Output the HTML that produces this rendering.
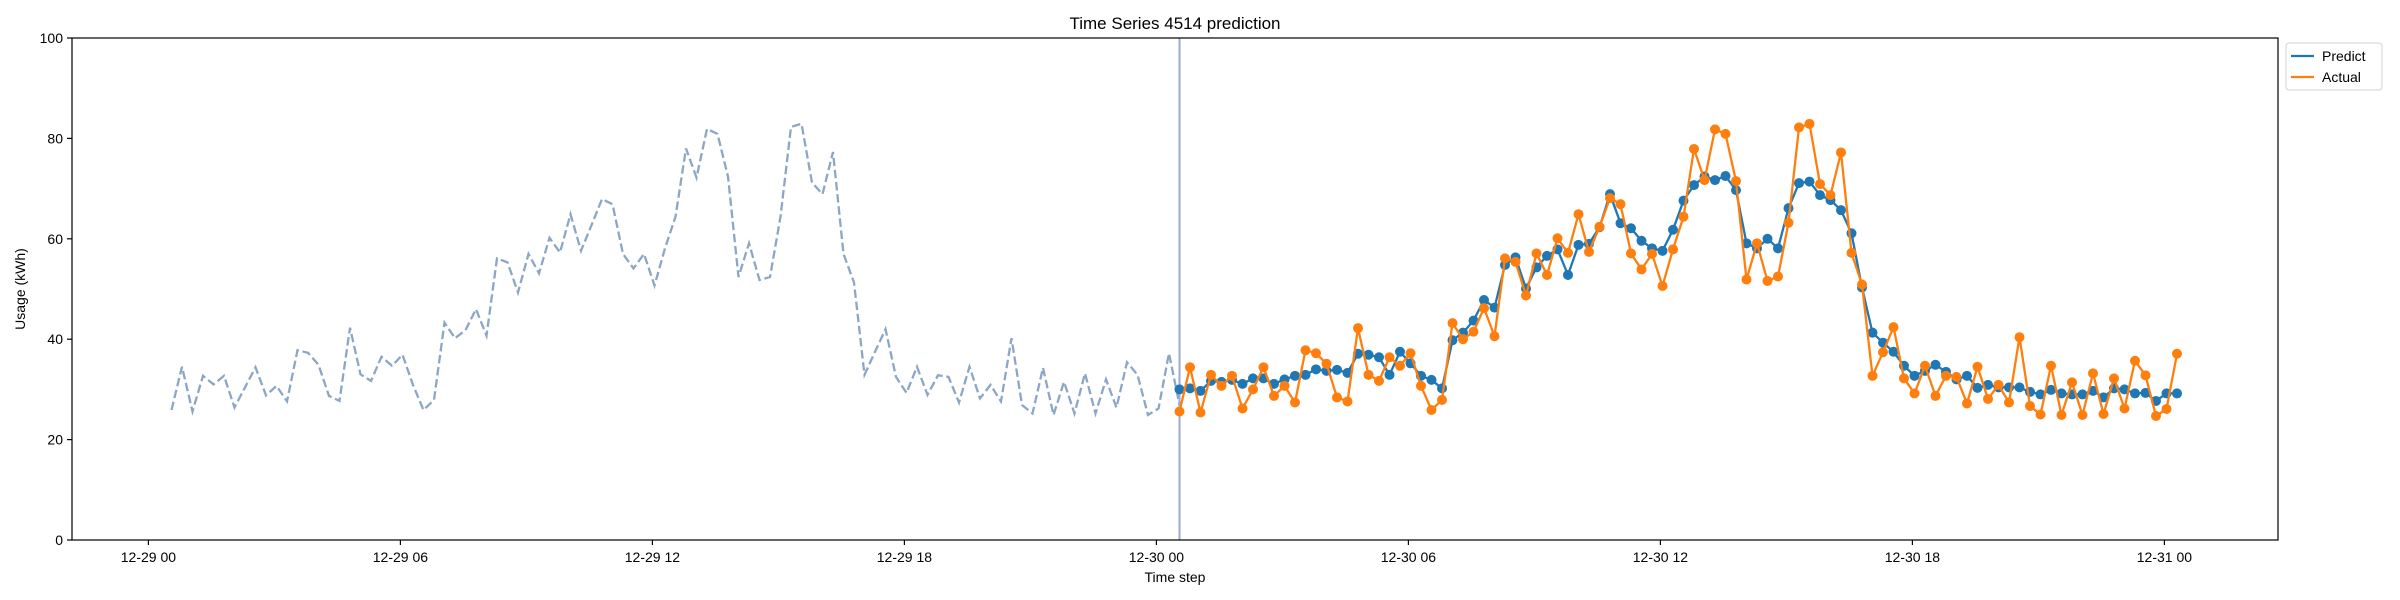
<!DOCTYPE html>
<html><head><meta charset="utf-8"><style>
html,body{margin:0;padding:0;background:#fff;}
svg{display:block;font-family:"Liberation Sans",sans-serif;}
</style></head><body>
<svg id="chart" width="2400" height="600" viewBox="0 0 2400 600" xmlns="http://www.w3.org/2000/svg">
<rect x="0" y="0" width="2400" height="600" fill="#fff"/>
<text x="1175" y="29" font-size="17" text-anchor="middle" fill="#000">Time Series 4514 prediction</text>
<g id="grid"></g>
<g id="series"></g>
<rect x="72" y="38" width="2206" height="502" fill="none" stroke="#000" stroke-width="1.2"/>
<text x="0" y="0" font-size="14" text-anchor="middle" transform="translate(25,289) rotate(-90)">Usage (kWh)</text>
<text x="1175" y="582" font-size="14" text-anchor="middle">Time step</text>
<g>
<rect x="2286" y="43" width="96" height="47" rx="3" fill="#fff" stroke="#d0d0d0"/>
<line x1="2291" y1="56" x2="2314" y2="56" stroke="#1f77b4" stroke-width="2.3"/>
<text x="2322" y="61" font-size="14">Predict</text>
<line x1="2291" y1="77" x2="2314" y2="77" stroke="#ff7f0e" stroke-width="2.3"/>
<text x="2322" y="82" font-size="14">Actual</text>
</g>
</svg>
<script>
const history = [25.9,34.5,25.6,32.7,31.0,32.7,26.4,30.4,34.4,28.8,30.7,27.6,37.8,37.3,34.9,28.7,27.7,42.3,33.0,31.7,36.5,34.7,36.9,30.9,25.9,27.9,43.3,40.2,41.8,46.0,40.7,56.1,55.3,
49.3,57.0,53.1,60.2,57.3,64.9,57.6,62.7,67.9,66.9,57.0,54.1,57.0,50.7,58.1,64.4,78.0,72.2,81.9,80.9,72.4,52.4,59.1,51.8,52.4,64.4,82.3,82.9,71.2,68.9,77.3,57.0,51.3,
32.9,37.5,42.0,32.5,29.3,34.5,28.9,32.8,32.5,27.4,34.5,28.2,30.9,27.6,40.2,26.9,25.2,34.3,24.9,31.5,25.2,33.2,25.2,32.0,26.4,35.4,32.9,24.9,26.2,37.2,26.9];
const predict = [30.0,30.2,29.7,31.7,31.5,31.9,31.1,32.2,32.2,31.1,32.0,32.7,32.9,34.0,33.7,33.9,33.3,37.1,36.9,36.4,32.9,37.5,35.2,32.7,31.9,
30.2,39.8,41.3,43.7,47.8,46.3,54.8,56.3,50.1,54.3,56.6,57.9,52.8,58.8,59.0,62.3,68.9,63.1,62.1,59.6,58.1,57.6,61.8,67.6,
70.7,72.4,71.7,72.5,69.7,59.1,58.1,60.0,58.1,66.1,71.1,71.4,68.7,67.7,65.7,61.1,50.3,41.3,39.3,37.5,34.7,32.7,33.7,34.9,33.5,32.0,
32.7,30.3,30.9,30.4,30.4,30.4,29.5,29.0,29.9,29.2,29.0,29.0,29.7,28.4,30.2,30.0,29.2,29.3,27.7,29.2,29.2];
const actual = [25.6,34.4,25.4,32.9,30.7,32.7,26.2,30.0,34.4,28.7,30.7,27.4,37.8,37.2,35.1,28.4,27.6,42.2,32.9,31.7,36.4,34.7,37.2,30.7,25.9,
27.9,43.2,40.0,41.5,46.2,40.6,56.1,55.4,48.7,57.1,52.8,60.1,57.2,64.9,57.4,62.4,68.1,66.9,57.1,53.9,57.0,50.6,57.9,64.4,
77.9,71.7,81.8,80.9,71.5,51.9,59.1,51.6,52.5,63.2,82.2,82.9,70.9,68.7,77.2,57.2,50.9,32.7,37.4,42.4,32.2,29.2,34.7,28.7,32.7,32.5,
27.2,34.5,28.1,30.9,27.4,40.4,26.7,25.0,34.7,24.9,31.4,24.9,33.2,25.1,32.2,26.2,35.7,32.8,24.7,26.1,37.1];
const yTicks = [0,20,40,60,80,100];
const xTickLabels = ["12-29 00","12-29 06","12-29 12","12-29 18","12-30 00","12-30 06","12-30 12","12-30 18","12-31 00"];
const xTickHours = [0,6,12,18,24,30,36,42,48];
const startHour = 0.55, stepHours = 0.25;

const NS="http://www.w3.org/2000/svg";
const xS = h => 148.4 + h*42.0;
const yS = v => 540 - v*5.02;
const grid=document.getElementById('grid'), ser=document.getElementById('series');
function mk(tag, attrs, parent){const e=document.createElementNS(NS,tag);for(const k in attrs)e.setAttribute(k,attrs[k]);parent.appendChild(e);return e;}

yTicks.forEach(v=>{
  const t=mk('line',{x1:67,x2:72,y1:yS(v),y2:yS(v),stroke:'#000','stroke-width':1.2},grid);
  
  
  const l=mk('text',{x:63,y:yS(v)+5,'font-size':14,'text-anchor':'end'},grid);
  l.textContent=v;
  
  
});
xTickHours.forEach((h,i)=>{
  const t=mk('line',{x1:xS(h),x2:xS(h),y1:540,y2:545,stroke:'#000','stroke-width':1.2},grid);
  
  
  const l=mk('text',{x:xS(h),y:562,'font-size':14,'text-anchor':'middle'},grid);
  l.textContent=xTickLabels[i];
  
  
});

const histEnd = startHour + (history.length-1)*stepHours;
const hp = history.map((v,i)=>xS(startHour+i*stepHours).toFixed(1)+','+yS(v).toFixed(1)).join(' ');
const hl=mk('polyline',{points:hp,fill:'none',stroke:'#8ca6c6','stroke-width':2.3,'stroke-dasharray':'8.5,3.7'},ser);



const vl=mk('line',{x1:xS(histEnd),x2:xS(histEnd),y1:38,y2:540,stroke:'#9aabcf','stroke-width':2},ser);



function drawSeries(arr,color,name){
  const pts=arr.map((v,i)=>xS(histEnd+i*stepHours).toFixed(1)+','+yS(v).toFixed(1)).join(' ');
  const l=mk('polyline',{points:pts,fill:'none',stroke:color,'stroke-width':2.3},ser);
  
  
  arr.forEach((v,i)=>{
    const c=mk('circle',{cx:xS(histEnd+i*stepHours),cy:yS(v),r:5,fill:color},ser);
    
    
  });
}
drawSeries(predict,'#1f77b4','predict');
drawSeries(actual,'#ff7f0e','actual');
</script>
</body></html>
